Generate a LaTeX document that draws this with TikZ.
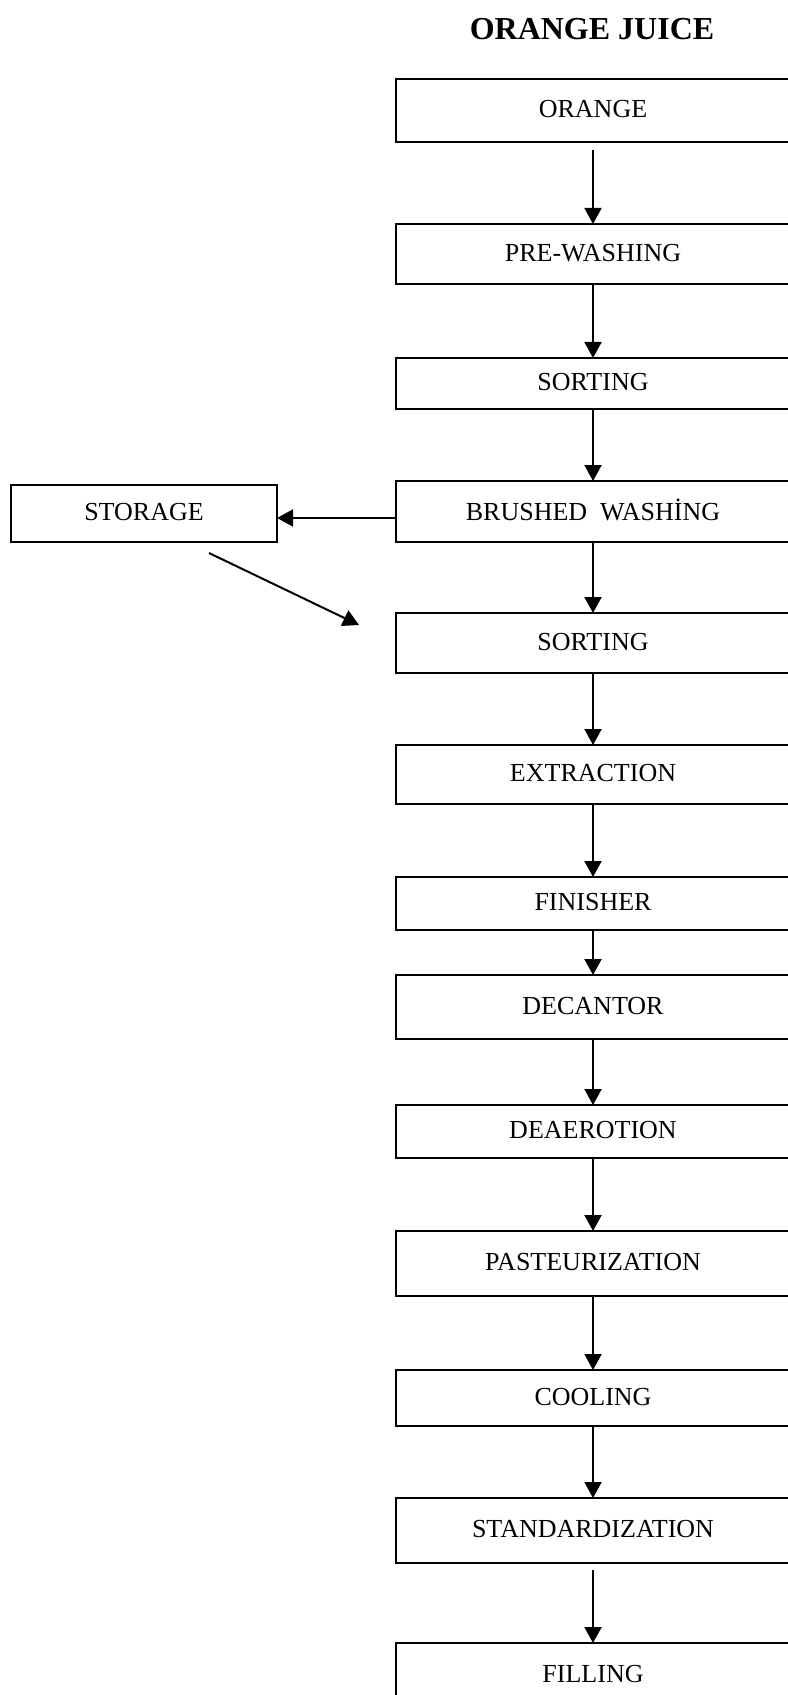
\documentclass[tikz,border=0pt]{standalone}
\usepackage{fontspec}
\setmainfont{Liberation Serif}
\usepackage{tikz}
\usetikzlibrary{positioning,arrows.meta}

\begin{document}
\begin{tikzpicture}[
  x=0.5pt, y=-0.5pt,
  box/.style={draw, line width=0.75pt, minimum width=197pt, anchor=north west, outer sep=0pt, inner sep=2pt, text depth=1.5pt, font=\fontsize{13}{15}\selectfont},
  arrow/.style={-{Triangle[length=8pt,width=8.5pt]}, line width=1pt}
]
\useasboundingbox (0,0) rectangle (787,1695);

% Title
\node[anchor=base, font=\fontsize{16}{19}\selectfont\bfseries] (title) at (592,40) {ORANGE JUICE};

% Process steps
\node[box, minimum height=31.5pt] (orange) at (396,79) {ORANGE};
\node[box, minimum height=30pt] (prewash) at (396,224) {PRE-WASHING};
\node[box, minimum height=25.5pt] (sort1) at (396,358) {SORTING};
\node[box, minimum height=30.5pt] (brush) at (396,481) {BRUSHED\ \ WASHİNG};
\node[box, minimum height=30pt] (sort2) at (396,613) {SORTING};
\node[box, minimum height=29.5pt] (extract) at (396,745) {EXTRACTION};
\node[box, minimum height=26.5pt] (finish) at (396,877) {FINISHER};
\node[box, minimum height=32pt] (decant) at (396,975) {DECANTOR};
\node[box, minimum height=26.5pt] (deaer) at (396,1105) {DEAEROTION};
\node[box, minimum height=32.5pt] (past) at (396,1231) {PASTEURIZATION};
\node[box, minimum height=28pt] (cool) at (396,1370) {COOLING};
\node[box, minimum height=32.5pt] (stand) at (396,1498) {STANDARDIZATION};
\node[box, minimum height=32.5pt] (fill) at (396,1643) {FILLING};

% Side branch
\node[box, minimum width=133pt, minimum height=28.5pt] (storage) at (11,485) {STORAGE};
\coordinate (storeout) at (209,553);
\coordinate (sortin) at (359,625);

% Arrows
\draw[arrow, shorten <=4pt] (orange.south) -- (prewash.north);
\draw[arrow] (prewash.south) -- (sort1.north);
\draw[arrow] (sort1.south) -- (brush.north);
\draw[arrow] (brush.south) -- (sort2.north);
\draw[arrow] (sort2.south) -- (extract.north);
\draw[arrow] (extract.south) -- (finish.north);
\draw[arrow] (finish.south) -- (decant.north);
\draw[arrow] (decant.south) -- (deaer.north);
\draw[arrow] (deaer.south) -- (past.north);
\draw[arrow] (past.south) -- (cool.north);
\draw[arrow] (cool.south) -- (stand.north);
\draw[arrow, shorten <=3.5pt] (stand.south) -- (fill.north);
\draw[arrow] ([yshift=-3.25pt]brush.west) -- ([yshift=-3.25pt]brush.west -| storage.east);
\draw[arrow] (storeout) -- (sortin);

\end{tikzpicture}
\end{document}
